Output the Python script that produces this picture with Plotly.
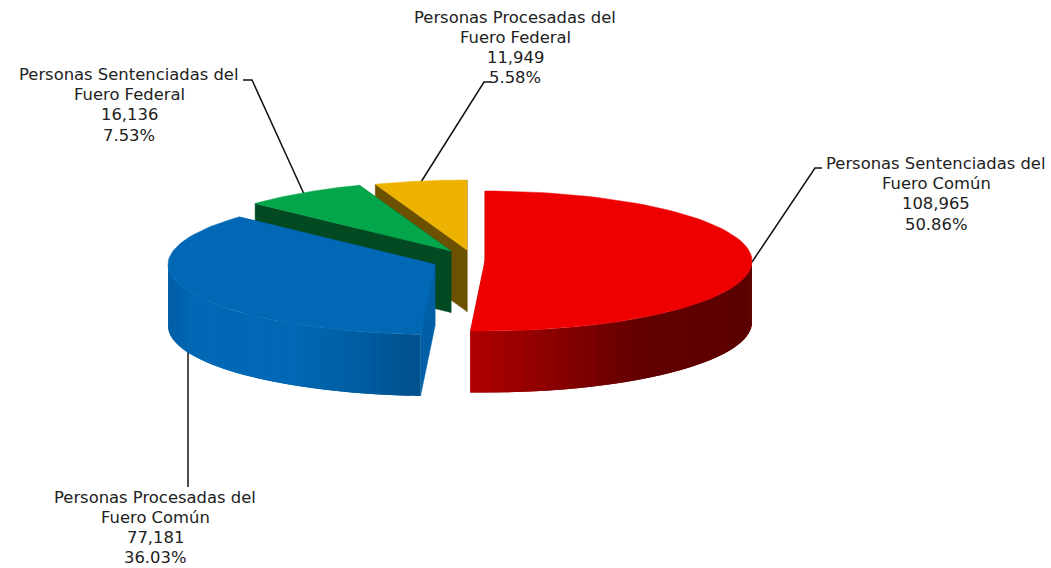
import math
import plotly.graph_objects as go

# Data
categories = [["Personas Sentenciadas del", "Fuero Común"], ["Personas Procesadas del", "Fuero Común"],
              ["Personas Sentenciadas del", "Fuero Federal"], ["Personas Procesadas del", "Fuero Federal"]]
values = [108965, 77181, 16136, 11949]
value_labels = ["108,965", "77,181", "16,136", "11,949"]
percent_labels = ["50.86%", "36.03%", "7.53%", "5.58%"]

# Styling
top_colors = ["#EE0000", "#0068B5", "#04A64B", "#EEB200"]
wall_colors = ["#B00000", "#005FA6", "#034A22", "#6B5100"]
side_stops = [
    [(0.0, (176, 0, 0)), (0.6, (98, 0, 0)), (1.0, (92, 0, 0))],
    [(0.0, (0, 94, 165)), (0.1, (0, 104, 181)), (0.5, (0, 104, 180)), (0.75, (0, 93, 162)), (1.0, (0, 80, 140))],
    None, None,
]
apex = [(485, 261), (435, 264.5), (451, 251), (467, 250)]
RX, RY, DEPTH = 267, 70, 61.5
label_pos = [(936, 163.5), (155, 497), (129, 74.5), (515, 17)]
LINE_STEP = 20.2
leaders = [[(752, 262), (815, 168), (822, 168)],
           [(188, 352), (188, 487)],
           [(304, 194), (252, 80), (243, 80)],
           [(421, 182), (484, 82), (491, 82)]]

total = sum(values)
angles = [0]
for v in values:
    angles.append(angles[-1] + 360 * v / total)


def pt(i, deg):
    a = math.radians(deg)
    return apex[i][0] + RX * math.sin(a), apex[i][1] - RY * math.cos(a)


def arc(i, a0, a1, n=80):
    return [pt(i, a0 + (a1 - a0) * k / n) for k in range(n + 1)]


def poly(points, color, lw=0.0):
    xs = [p[0] for p in points] + [points[0][0]]
    ys = [p[1] for p in points] + [points[0][1]]
    return go.Scatter(x=xs, y=ys, mode="lines", fill="toself", fillcolor=color,
                      line=dict(color=color, width=lw), hoverinfo="skip", showlegend=False)


def shade(stops, t):
    for (t0, c0), (t1, c1) in zip(stops, stops[1:]):
        if t <= t1:
            f = (t - t0) / (t1 - t0)
            c = [round(a + (b - a) * f) for a, b in zip(c0, c1)]
            return f"rgb({c[0]},{c[1]},{c[2]})"
    return "rgb({},{},{})".format(*stops[-1][1])


fig = go.Figure()

for seg in leaders:
    fig.add_trace(go.Scatter(x=[p[0] for p in seg], y=[p[1] for p in seg], mode="lines",
                             line=dict(color="#111111", width=1.5), hoverinfo="skip", showlegend=False))

for i in [3, 2, 1, 0]:
    a0, a1 = angles[i], angles[i + 1]
    cx, cy = apex[i]
    # radial walls
    for ang in (a0, a1):
        p = pt(i, ang)
        fig.add_trace(poly([(cx, cy), p, (p[0], p[1] + DEPTH), (cx, cy + DEPTH)], wall_colors[i], 0.5))
    # outer curved wall: front half only, painted as overlapping bands so no seams show
    if side_stops[i]:
        lo = max(a0, 90)
        hi = min(a1, 270)
        n = 40
        xs_all = [pt(i, lo + (hi - lo) * k / n)[0] for k in range(n + 1)]
        xmin, xmax = min(xs_all), max(xs_all)
        for k in range(n):
            s = lo + (hi - lo) * k / n
            e = lo + (hi - lo) * min(k + 2, n) / n
            top = arc(i, s, e, 6)
            bottom = [(x, y + DEPTH) for x, y in reversed(top)]
            mid = pt(i, lo + (hi - lo) * (k + 0.5) / n)[0]
            t = (mid - xmin) / (xmax - xmin)
            fig.add_trace(poly(top + bottom, shade(side_stops[i], t)))
    # top face
    fig.add_trace(poly([(cx, cy)] + arc(i, a0, a1), top_colors[i], 0.5))

for cat, val, pct, (lx, ly) in zip(categories, value_labels, percent_labels, label_pos):
    for j, line in enumerate(cat + [val, pct]):
        fig.add_annotation(x=lx, y=ly + j * LINE_STEP, xref="x", yref="y", text=line, showarrow=False,
                           align="center", xanchor="center", yanchor="middle",
                           font=dict(family="DejaVu Sans", size=16.4, color="#222222"))

fig.update_layout(
    width=1051, height=568, margin=dict(l=0, r=0, t=0, b=0), autosize=False,
    paper_bgcolor="white", plot_bgcolor="white", showlegend=False,
    xaxis=dict(range=[0, 1051], visible=False, fixedrange=True),
    yaxis=dict(range=[568, 0], visible=False, fixedrange=True),
)
fig.write_html("out.html", config={"displayModeBar": False},
               post_script="document.body.style.margin='0';document.documentElement.style.overflow='hidden';")
